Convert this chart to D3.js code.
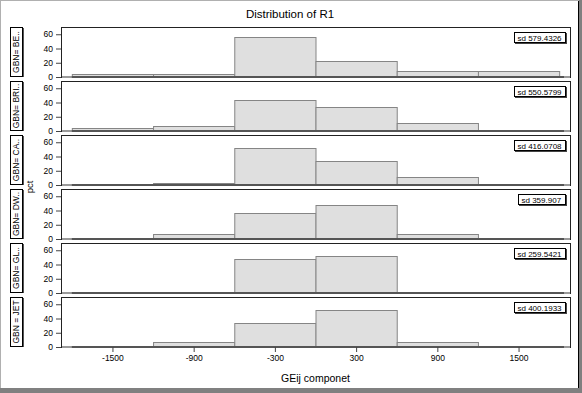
<!DOCTYPE html>
<html>
<head>
<meta charset="utf-8">
<script src="https://cdn.jsdelivr.net/npm/d3@7"></script>
<style>
  body { margin: 0; background: #fff; }
  text { font-family: Arial, "Liberation Sans", sans-serif; fill: #000; }
</style>
</head>
<body>
<div id="chart"></div>
<script>
var outerWidth = 582;
var outerHeight = 393;

// groups, histogram percents per bin, and the sd inset labels
var groups = ["GBN= BE..", "GBN= BRI..", "GBN= CA..", "GBN= DW..", "GBN= GL..", "GBN = JET"];
var sdLabels = ["sd 579.4326", "sd 550.5799", "sd 416.0708", "sd 359.907", "sd 259.5421", "sd 400.1933"];
var binMids = [-1500, -900, -300, 300, 900, 1500];
var binWidth = 600;
var pctBE  = [3.8, 3.8, 55.5, 22.8, 7.8, 7.8];
var pctBRI = [3.8, 7.7, 44.0, 34.0, 11.5, 0];
var pctCA  = [0, 3.5, 52.0, 33.0, 11.5, 0];
var pctDW  = [0, 7.4, 37.0, 48.0, 7.4, 0];
var pctGL  = [0, 0, 48.0, 52.0, 0, 0];
var pctJET = [0, 7.4, 33.3, 51.9, 7.4, 0];
var pctAll = [pctBE, pctBRI, pctCA, pctDW, pctGL, pctJET];
var yTickVals = [0, 20, 40, 60];
var xTickVals = [-1500, -900, -300, 300, 900, 1500];

var plotLeft = 61, plotRight = 570;
var panelTop = 27, panelH = 50, panelGap = 4;

var svg = d3.select("#chart").append("svg")
    .attr("width", outerWidth)
    .attr("height", outerHeight);

// outer frame
svg.append("rect").attr("x", 0.5).attr("y", 0.5)
    .attr("width", 579).attr("height", 389)
    .attr("fill", "#fff").attr("stroke", "#b0b0b0");
svg.append("line").attr("x1", 578.5).attr("x2", 578.5).attr("y1", 1).attr("y2", 389)
    .attr("stroke", "#000");
svg.append("rect").attr("x", 0).attr("y", 388).attr("width", 582).attr("height", 5)
    .attr("fill", "#808080");
svg.append("rect").attr("x", 579).attr("y", 0).attr("width", 3).attr("height", 393)
    .attr("fill", "#808080");

svg.append("text")
    .attr("x", 290).attr("y", 18)
    .attr("text-anchor", "middle")
    .style("font-size", "11.5px")
    .text("Distribution of R1");

var xScale = d3.scaleLinear()
    .domain([-1880, 1880])
    .range([plotLeft, plotRight]);

groups.forEach(function(name, i) {
  var top = panelTop + i * (panelH + panelGap);
  var bottom = top + panelH;
  var yScale = d3.scaleLinear().domain([0, 70.2]).range([bottom, top]);
  var data = pctAll[i];

  var g = svg.append("g");

  // frame
  g.append("rect")
      .attr("x", plotLeft + 0.5).attr("y", top + 0.5)
      .attr("width", plotRight - plotLeft).attr("height", panelH)
      .attr("fill", "#fff").attr("stroke", "#222");

  // bars
  g.selectAll(".bar").data(binMids.map(function(m, j) { return {mid: m, v: data[j]}; })
      .filter(function(d) { return d.v > 0; }))
    .enter().append("rect")
      .attr("x", function(d) { return xScale(d.mid - binWidth / 2) + 0.5; })
      .attr("width", function(d) { return xScale(d.mid + binWidth / 2) - xScale(d.mid - binWidth / 2); })
      .attr("y", function(d) { return Math.round(yScale(d.v)) + 0.5; })
      .attr("height", function(d) { return bottom - Math.round(yScale(d.v)); })
      .attr("fill", "#dfdfdf")
      .attr("stroke", "#858585");

  // baseline
  g.append("line")
      .attr("x1", plotLeft + 1).attr("x2", plotRight)
      .attr("y1", bottom).attr("y2", bottom)
      .attr("stroke", "#9a9a9a").attr("stroke-width", 2);
  g.append("line")
      .attr("x1", xScale(-1800)).attr("x2", xScale(1880) - 6)
      .attr("y1", bottom).attr("y2", bottom)
      .attr("stroke", "#555").attr("stroke-width", 2);

  // y axis
  var yAxisG = g.append("g").attr("transform", "translate(" + plotLeft + ",0)")
      .call(d3.axisLeft(yScale).tickValues(yTickVals).tickSize(5).tickPadding(3));
  yAxisG.select(".domain").remove();
  yAxisG.selectAll("text").style("font-size", "8.5px");
  yAxisG.selectAll("line").attr("stroke", "#444");

  // sd box
  var sdG = g.append("g");
  var sdRect = sdG.append("rect");
  var sdText = sdG.append("text")
      .attr("y", top + 13.5)
      .style("font-size", "8px")
      .text(sdLabels[i]);
  var tw = sdText.node().getComputedTextLength();
  var boxRight = plotRight - 5;
  var boxW = Math.round(tw + 7);
  sdRect.attr("x", boxRight - boxW + 0.5).attr("y", top + 5.5)
      .attr("width", boxW).attr("height", 10)
      .attr("fill", "#fff").attr("stroke", "#000");
  sdG.append("line").attr("x1", boxRight + 1.5).attr("x2", boxRight + 1.5)
      .attr("y1", top + 6).attr("y2", top + 17).attr("stroke", "#444");
  sdG.append("line").attr("x1", boxRight - boxW + 1).attr("x2", boxRight + 2)
      .attr("y1", top + 16.5).attr("y2", top + 16.5).attr("stroke", "#444");
  sdText.attr("x", boxRight - boxW + 3.5);

  // strip label on the left
  var sx = 10, sw = 12;
  g.append("rect")
      .attr("x", sx + 0.5).attr("y", top + 0.5)
      .attr("width", sw).attr("height", panelH - 1)
      .attr("fill", "#fff").attr("stroke", "#000");
  g.append("line").attr("x1", sx + sw + 1.5).attr("x2", sx + sw + 1.5)
      .attr("y1", top + 1).attr("y2", top + panelH).attr("stroke", "#555");
  g.append("text")
      .attr("transform", "translate(" + (sx + sw / 2 + 3) + "," + (top + panelH / 2) + ") rotate(-90)")
      .attr("text-anchor", "middle")
      .style("font-size", "8.5px")
      .text(name);
});

var lastBottom = panelTop + 5 * (panelH + panelGap) + panelH;

// x axis under the last panel
var xAxisG = svg.append("g")
    .attr("transform", "translate(0," + lastBottom + ")")
    .call(d3.axisBottom(xScale).tickValues(xTickVals).tickSize(5).tickPadding(3)
      .tickFormat(d3.format("d")));
xAxisG.select(".domain").remove();
xAxisG.selectAll("text").style("font-size", "8.5px").text(function(d) { return String(d); });
xAxisG.selectAll("line").attr("stroke", "#444");

svg.append("text")
    .attr("x", (plotLeft + plotRight) / 2).attr("y", 382)
    .attr("text-anchor", "middle")
    .style("font-size", "10.5px")
    .text("GEij componet");

svg.append("text")
    .attr("transform", "translate(33," + ((panelTop + lastBottom) / 2) + ") rotate(-90)")
    .attr("text-anchor", "middle")
    .style("font-size", "9.5px")
    .text("pct");
</script>
</body>
</html>
